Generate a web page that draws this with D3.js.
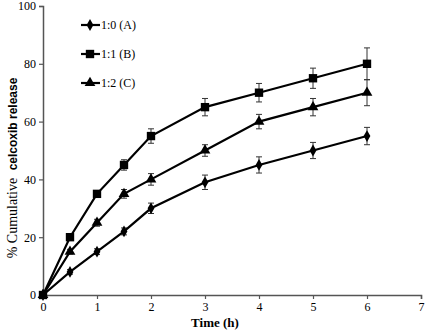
<html lang="en">
<head>
<meta charset="utf-8">
<title>Celecoxib release</title>
<script src="https://cdn.jsdelivr.net/npm/d3@7"></script>
<style>
  body { margin: 0; background: #fff; }
  svg text { font-family: "Liberation Serif", "Times New Roman", serif; }
</style>
</head>
<body>
<script>
// time points (h)
var times = [0, 0.5, 1, 1.5, 2, 3, 4, 5, 6];
// release % for each ratio
var seriesA = [0, 8, 15, 22, 30, 39, 45, 50, 55];
var seriesB = [0, 20, 35, 45, 55, 65, 70, 75, 80];
var seriesC = [0, 15, 25, 35, 40, 50, 60, 65, 70];
// error bars (sd)
var errA = [0, 0.8, 1, 1.2, 1.8, 2.5, 2.8, 2.8, 3];
var errB = [0, 0.6, 1, 1.8, 2.5, 3, 3.2, 3.5, 5.5];
var errC = [0, 0.8, 1.2, 1.5, 2, 2, 2.5, 3, 4.5];
var labels = ["1:0 (A)", "1:1 (B)", "1:2 (C)"];
var shapes = [d3.symbolDiamond, d3.symbolSquare, d3.symbolTriangle];
var xTicks = [0, 1, 2, 3, 4, 5, 6, 7];
var yTicks = [0, 20, 40, 60, 80, 100];

var w = 425, h = 332;
var x = d3.scaleLinear().domain([0, 7]).range([43, 421]);
var y = d3.scaleLinear().domain([0, 100]).range([295, 6]);

var svg = d3.select("body").append("svg")
    .attr("width", w)
    .attr("height", h);

var series = [
    {vals: seriesA, err: errA, shape: shapes[0], size: 40},
    {vals: seriesB, err: errB, shape: shapes[1], size: 70},
    {vals: seriesC, err: errC, shape: shapes[2], size: 50}
];

// axes
var xAxis = svg.append("g")
    .attr("transform", "translate(0," + y(0) + ")")
    .call(d3.axisBottom(x).tickValues(xTicks).tickFormat(d3.format("d")).tickSize(4).tickPadding(3));
var yAxis = svg.append("g")
    .attr("transform", "translate(" + x(0) + ",0)")
    .call(d3.axisLeft(y).tickValues(yTicks).tickFormat(d3.format("d")).tickSize(4).tickPadding(3));
[xAxis, yAxis].forEach(function(a) {
    a.select(".domain").attr("stroke", "#555").attr("stroke-width", 1.5);
    a.selectAll(".tick line").attr("stroke", "#555").attr("stroke-width", 1.2);
    a.selectAll(".tick text")
        .attr("font-family", "Liberation Serif, serif")
        .attr("font-size", "12px")
        .attr("fill", "#000");
});

var line = d3.line()
    .x(function(d) { return x(d[0]); })
    .y(function(d) { return y(d[1]); });

series.forEach(function(s) {
    var pts = times.map(function(t, i) { return [t, s.vals[i], s.err[i]]; });

    // error bars
    var eb = svg.append("g").attr("stroke", "#333").attr("stroke-width", 1);
    pts.filter(function(d) { return d[2] > 0; }).forEach(function(d) {
        var cx = x(d[0]);
        eb.append("line").attr("x1", cx).attr("x2", cx)
            .attr("y1", y(d[1] - d[2])).attr("y2", y(d[1] + d[2]));
        eb.append("line").attr("x1", cx - 3).attr("x2", cx + 3)
            .attr("y1", y(d[1] - d[2])).attr("y2", y(d[1] - d[2]));
        eb.append("line").attr("x1", cx - 3).attr("x2", cx + 3)
            .attr("y1", y(d[1] + d[2])).attr("y2", y(d[1] + d[2]));
    });

    svg.append("path")
        .datum(pts)
        .attr("d", line)
        .attr("fill", "none")
        .attr("stroke", "#000")
        .attr("stroke-width", 2.2);

    svg.selectAll(null)
        .data(pts)
        .enter()
        .append("path")
        .attr("d", d3.symbol().type(s.shape).size(s.size))
        .attr("transform", function(d) { return "translate(" + x(d[0]) + "," + y(d[1]) + ")"; })
        .attr("fill", "#000");
});

// legend
labels.forEach(function(lab, i) {
    var ly = 25 + i * 29;
    svg.append("line")
        .attr("x1", 81).attr("x2", 100)
        .attr("y1", ly).attr("y2", ly)
        .attr("stroke", "#000").attr("stroke-width", 2.2);
    svg.append("path")
        .attr("d", d3.symbol().type(series[i].shape).size(series[i].size))
        .attr("transform", "translate(90," + ly + ")")
        .attr("fill", "#000");
    svg.append("text")
        .attr("x", 101).attr("y", ly + 4)
        .attr("font-size", "12px")
        .text(lab);
});

// axis titles
svg.append("text")
    .attr("x", 215).attr("y", 327)
    .attr("text-anchor", "middle")
    .attr("font-size", "13px")
    .attr("font-weight", "bold")
    .text("Time (h)");

var yt = svg.append("text")
    .attr("transform", "translate(17,168) rotate(-90)")
    .attr("text-anchor", "middle")
    .attr("font-size", "14px");
yt.append("tspan").text("% Cumulative ");
yt.append("tspan")
    .attr("font-family", "Liberation Sans, Arial, sans-serif")
    .attr("font-weight", "bold")
    .attr("font-size", "12px")
    .attr("dx", 4)
    .text("celcoxib release");
</script>
</body>
</html>
